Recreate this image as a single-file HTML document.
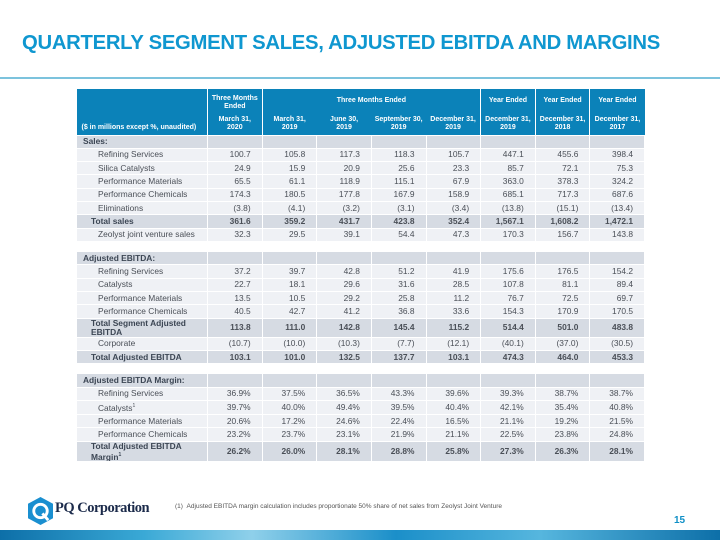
<!DOCTYPE html>
<html><head><meta charset="utf-8"><style>
*{margin:0;padding:0;box-sizing:border-box}
body{width:720px;height:540px;position:relative;background:#fff;font-family:"Liberation Sans",Arial,sans-serif;overflow:hidden}
.title{position:absolute;left:22px;top:32px;font-size:20.3px;font-weight:bold;color:#0f97d0;letter-spacing:-0.3px;white-space:nowrap}
.rule{position:absolute;left:0;top:77px;width:720px;height:2px;background:#7cc3dd}
table{position:absolute;left:76px;top:89px;border-collapse:collapse;table-layout:fixed;width:569px}
td{border:1px solid #fff;font-size:8.4px;color:#4a4f57;text-align:right;padding-right:11px;height:13.33px;line-height:11px;white-space:nowrap;overflow:hidden}
td.l{text-align:left;padding-left:21px;padding-right:0}
td.s{text-align:left;padding-left:6px;font-weight:bold!important;color:#3c4654}
td.t{text-align:left;padding-left:14px;font-weight:bold;color:#3c4654;white-space:normal;line-height:9px}
tr.g td{background:#d6dbe3}
tr.w td{background:#eff1f5}
tr.g td{font-weight:bold}
tr.gap td{background:#fff;height:10px;border:none}
th{background:#0b82b9;color:#fff;font-size:7px;font-weight:bold;text-align:center;line-height:8px;border:none;vertical-align:middle}
th.b{border-left:1px solid #fff}
th.first{text-align:left;padding-left:5px;vertical-align:bottom;padding-bottom:3px}
sup{font-size:5px}
.foot{position:absolute;left:175px;top:503px;font-size:6.5px;color:#555}
.pg{position:absolute;left:674px;top:515px;font-size:10px;font-weight:bold;color:#0f8fc6}
.bar{position:absolute;left:0;top:530px;width:720px;height:10px;background:linear-gradient(90deg,#0d6fa8,#3aa9d6 20%,#8fd0ea 35%,#1b8fc9 55%,#56b6de 75%,#0d6fa8)}
.logo{position:absolute;left:55px;top:500px;font-family:"Liberation Serif",serif;font-weight:bold;font-size:14.5px;color:#1b2a4a;letter-spacing:-0.5px}
</style></head><body>
<div class="title">QUARTERLY SEGMENT SALES, ADJUSTED EBITDA AND MARGINS</div>
<div class="rule"></div>
<table>
<colgroup><col style="width:131px"><col><col><col><col><col><col><col><col></colgroup>
<tr style="height:24px">
<th class="first" rowspan="2">($ in millions except %, unaudited)</th>
<th class="b" style="padding-top:4px">Three Months<br>Ended</th>
<th class="b" colspan="4">Three Months Ended</th>
<th class="b">Year Ended</th><th class="b">Year Ended</th><th class="b">Year Ended</th></tr>
<tr style="height:22px">
<th class="b">March 31,<br>2020</th><th class="b">March 31,<br>2019</th><th>June 30,<br>2019</th><th>September 30,<br>2019</th><th>December 31,<br>2019</th>
<th class="b">December 31,<br>2019</th><th class="b">December 31,<br>2018</th><th class="b">December 31,<br>2017</th></tr>
<tr class="g"><td class="s">Sales:</td><td></td><td></td><td></td><td></td><td></td><td></td><td></td><td></td></tr>
<tr class="w"><td class="l">Refining Services</td><td>100.7</td><td>105.8</td><td>117.3</td><td>118.3</td><td>105.7</td><td>447.1</td><td>455.6</td><td>398.4</td></tr>
<tr class="w"><td class="l">Silica Catalysts</td><td>24.9</td><td>15.9</td><td>20.9</td><td>25.6</td><td>23.3</td><td>85.7</td><td>72.1</td><td>75.3</td></tr>
<tr class="w"><td class="l">Performance Materials</td><td>65.5</td><td>61.1</td><td>118.9</td><td>115.1</td><td>67.9</td><td>363.0</td><td>378.3</td><td>324.2</td></tr>
<tr class="w"><td class="l">Performance Chemicals</td><td>174.3</td><td>180.5</td><td>177.8</td><td>167.9</td><td>158.9</td><td>685.1</td><td>717.3</td><td>687.6</td></tr>
<tr class="w"><td class="l">Eliminations</td><td>(3.8)</td><td>(4.1)</td><td>(3.2)</td><td>(3.1)</td><td>(3.4)</td><td>(13.8)</td><td>(15.1)</td><td>(13.4)</td></tr>
<tr class="g"><td class="t">Total sales</td><td>361.6</td><td>359.2</td><td>431.7</td><td>423.8</td><td>352.4</td><td>1,567.1</td><td>1,608.2</td><td>1,472.1</td></tr>
<tr class="w"><td class="l">Zeolyst joint venture sales</td><td>32.3</td><td>29.5</td><td>39.1</td><td>54.4</td><td>47.3</td><td>170.3</td><td>156.7</td><td>143.8</td></tr>
<tr class="gap"><td colspan="9"></td></tr>
<tr class="g"><td class="s">Adjusted EBITDA:</td><td></td><td></td><td></td><td></td><td></td><td></td><td></td><td></td></tr>
<tr class="w"><td class="l">Refining Services</td><td>37.2</td><td>39.7</td><td>42.8</td><td>51.2</td><td>41.9</td><td>175.6</td><td>176.5</td><td>154.2</td></tr>
<tr class="w"><td class="l">Catalysts</td><td>22.7</td><td>18.1</td><td>29.6</td><td>31.6</td><td>28.5</td><td>107.8</td><td>81.1</td><td>89.4</td></tr>
<tr class="w"><td class="l">Performance Materials</td><td>13.5</td><td>10.5</td><td>29.2</td><td>25.8</td><td>11.2</td><td>76.7</td><td>72.5</td><td>69.7</td></tr>
<tr class="w"><td class="l">Performance Chemicals</td><td>40.5</td><td>42.7</td><td>41.2</td><td>36.8</td><td>33.6</td><td>154.3</td><td>170.9</td><td>170.5</td></tr>
<tr class="g" style="height:19px"><td class="t">Total Segment Adjusted EBITDA</td><td>113.8</td><td>111.0</td><td>142.8</td><td>145.4</td><td>115.2</td><td>514.4</td><td>501.0</td><td>483.8</td></tr>
<tr class="w"><td class="l">Corporate</td><td>(10.7)</td><td>(10.0)</td><td>(10.3)</td><td>(7.7)</td><td>(12.1)</td><td>(40.1)</td><td>(37.0)</td><td>(30.5)</td></tr>
<tr class="g"><td class="t">Total Adjusted EBITDA</td><td>103.1</td><td>101.0</td><td>132.5</td><td>137.7</td><td>103.1</td><td>474.3</td><td>464.0</td><td>453.3</td></tr>
<tr class="gap"><td colspan="9"></td></tr>
<tr class="g"><td class="s">Adjusted EBITDA Margin:</td><td></td><td></td><td></td><td></td><td></td><td></td><td></td><td></td></tr>
<tr class="w"><td class="l">Refining Services</td><td>36.9%</td><td>37.5%</td><td>36.5%</td><td>43.3%</td><td>39.6%</td><td>39.3%</td><td>38.7%</td><td>38.7%</td></tr>
<tr class="w"><td class="l">Catalysts<sup>1</sup></td><td>39.7%</td><td>40.0%</td><td>49.4%</td><td>39.5%</td><td>40.4%</td><td>42.1%</td><td>35.4%</td><td>40.8%</td></tr>
<tr class="w"><td class="l">Performance Materials</td><td>20.6%</td><td>17.2%</td><td>24.6%</td><td>22.4%</td><td>16.5%</td><td>21.1%</td><td>19.2%</td><td>21.5%</td></tr>
<tr class="w"><td class="l">Performance Chemicals</td><td>23.2%</td><td>23.7%</td><td>23.1%</td><td>21.9%</td><td>21.1%</td><td>22.5%</td><td>23.8%</td><td>24.8%</td></tr>
<tr class="g" style="height:19px"><td class="t">Total Adjusted EBITDA Margin<sup>1</sup></td><td>26.2%</td><td>26.0%</td><td>28.1%</td><td>28.8%</td><td>25.8%</td><td>27.3%</td><td>26.3%</td><td>28.1%</td></tr>
</table>
<svg style="position:absolute;left:28px;top:497px" width="25" height="28" viewBox="0 0 26 29">
<polygon points="13,0 26,7 26,22 13,29 0,22 0,7" fill="#1a8fd0"/>
<circle cx="13" cy="14.5" r="7" fill="none" stroke="#fff" stroke-width="3"/>
<line x1="15" y1="17" x2="21" y2="24" stroke="#fff" stroke-width="3"/>
</svg>
<div class="logo">PQ Corporation</div>
<div class="foot">(1)&nbsp;&nbsp;Adjusted EBITDA margin calculation includes proportionate 50% share of net sales from Zeolyst Joint Venture</div>
<div class="pg">15</div>
<div class="bar"></div>
</body></html>
